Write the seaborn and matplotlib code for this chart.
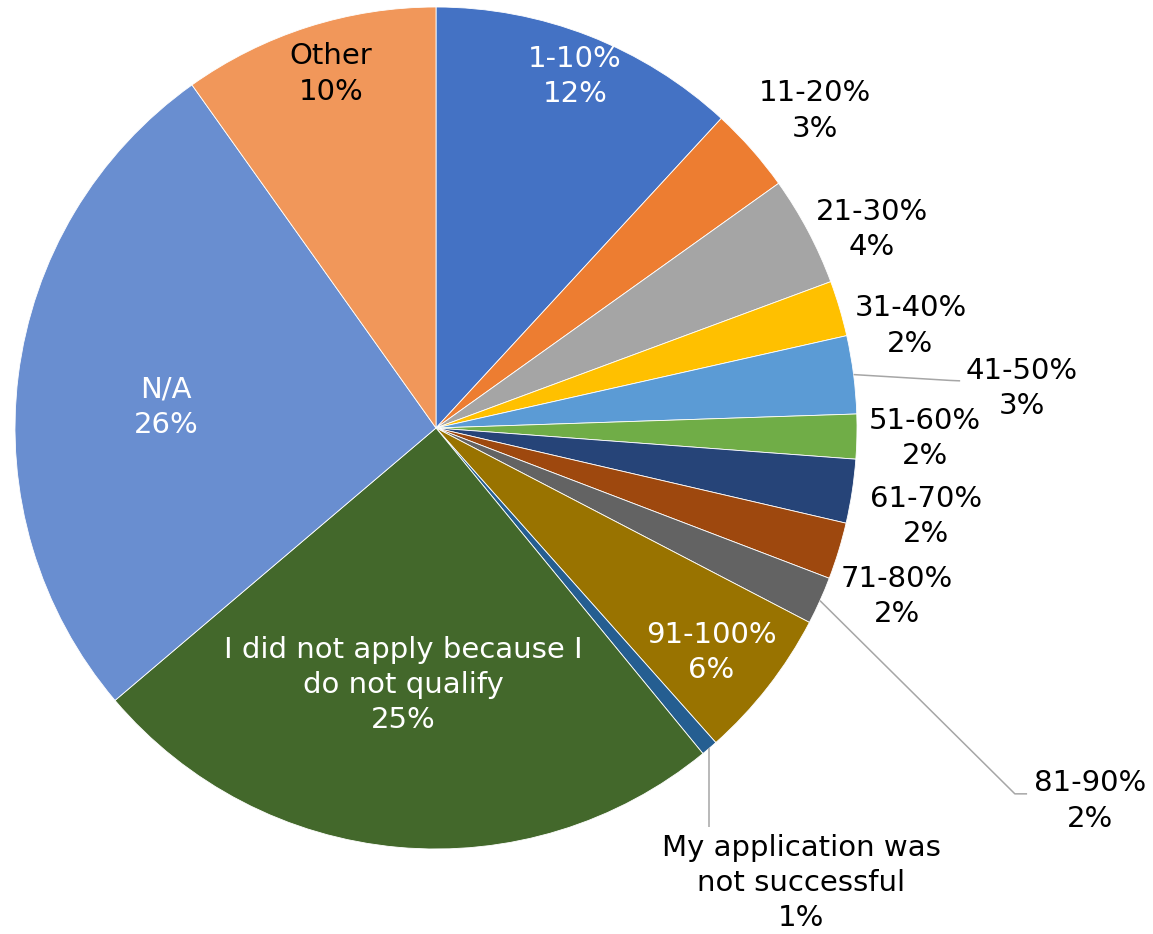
import numpy as np
import matplotlib
matplotlib.use('Agg')
import matplotlib.pyplot as plt
import seaborn as sns

##### DATA #####
categories = ['1-10%', '11-20%', '21-30%', '31-40%', '41-50%', '51-60%',
              '61-70%', '71-80%', '81-90%', '91-100%',
              'My application was\nnot successful',
              'I did not apply because I\ndo not qualify',
              'N/A', 'Other']
shares = [11.85, 3.28, 4.22, 2.13, 2.99, 1.71, 2.45, 2.18, 1.83, 5.79,
          0.64, 24.73, 26.36, 9.84]
colors = ['#4472C4', '#ED7D31', '#A5A5A5', '#FFC000', '#5B9BD5', '#70AD47',
          '#264478', '#9E480E', '#636363', '#997300', '#255E91', '#43682B',
          '#698ED0', '#F1975A']
#####

##### PLOTTING #####
sns.set_style('white')
plt.rcParams['font.family'] = ['DejaVu Sans']

fig = plt.figure(figsize=(11.53, 9.34), dpi=100)
ax = fig.add_axes([0, 0, 1, 1])

wedges, _ = ax.pie(shares, colors=colors, startangle=90, counterclock=False,
                   radius=1, wedgeprops=dict(edgecolor='white', linewidth=0.6))

# label placement (data units, pie radius = 1)
label_pos = {
    '1-10%': (0.330, 0.835),
    '11-20%': (0.900, 0.753),
    '21-30%': (1.036, 0.472),
    '31-40%': (1.127, 0.242),
    '41-50%': (1.391, 0.094),
    '51-60%': (1.162, -0.025),
    '61-70%': (1.164, -0.210),
    '71-80%': (1.094, -0.401),
    '81-90%': (1.553, -0.886),
    '91-100%': (0.654, -0.533),
    'My application was\nnot successful': (0.868, -1.081),
    'I did not apply because I\ndo not qualify': (-0.077, -0.610),
    'N/A': (-0.641, 0.049),
    'Other': (-0.250, 0.841),
}
white_text = ['1-10%', '91-100%', 'I did not apply because I\ndo not qualify', 'N/A']

# leader lines: (bend point, end point), start comes from the wedge middle
leaders = {
    '41-50%': [(1.221, 0.113), (1.245, 0.112)],
    '81-90%': [(1.375, -0.869), (1.404, -0.869)],
    'My application was\nnot successful': [(None, -0.948)],
}

for w, name, v in zip(wedges, categories, shares):
    x, y = label_pos[name]
    col = 'white' if name in white_text else 'black'
    ax.text(x, y, f'{name}\n{round(v):.0f}%', ha='center', va='center',
            multialignment='center', fontsize=21, color=col, linespacing=1.33)
    if name in leaders:
        mid = np.deg2rad((w.theta1 + w.theta2) / 2)
        xs, ys = [np.cos(mid)], [np.sin(mid)]
        for px, py in leaders[name]:
            xs.append(xs[0] if px is None else px)
            ys.append(py)
        ax.plot(xs, ys, color='#A6A6A6', linewidth=1.1, solid_capstyle='butt')

ax.set_xlim(-436 / 421, 717 / 421)
ax.set_ylim(-506 / 421, 428 / 421)
ax.set_aspect('auto')
ax.axis('off')

plt.savefig('out.png', dpi=100, facecolor='white')
